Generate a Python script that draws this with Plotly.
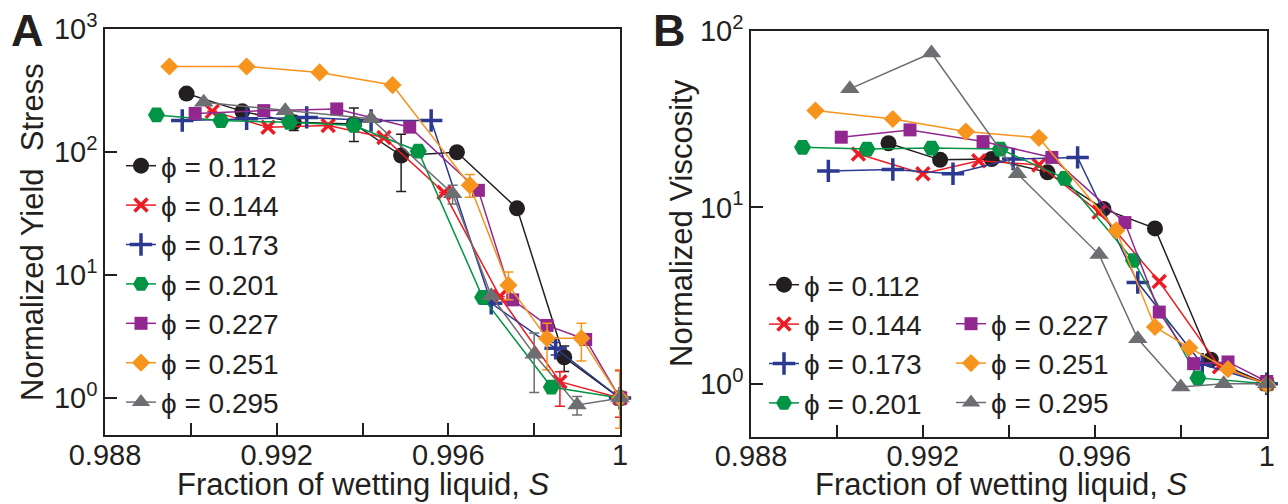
import plotly.graph_objects as go

# ---------------- data ----------------
LABELS = ["\u03d5 = 0.112", "\u03d5 = 0.144", "\u03d5 = 0.173", "\u03d5 = 0.201",
          "\u03d5 = 0.227", "\u03d5 = 0.251", "\u03d5 = 0.295"]

# Panel A: normalized yield stress
A_S_112 = [0.9899, 0.9912, 0.9924, 0.9938, 0.9949, 0.9962, 0.9976, 0.9987, 1.0]
A_Y_112 = [300, 215, 175, 170, 94, 100, 35, 2.15, 1.0]
A_EP_112 = [None, None, 19, 59, 46, None, None, 0.5, None]
A_EM_112 = [None, None, 25, 48, 46, None, None, 0.5, None]

A_S_144 = [0.9905, 0.9918, 0.9932, 0.9945, 0.9959, 0.9972, 0.9986, 1.0]
A_Y_144 = [215, 160, 165, 132, 47, 6.7, 1.36, 1.0]
A_EP_144 = [None, None, None, None, None, None, 0.28, 0.67]
A_EM_144 = [None, None, None, None, None, None, 0.5, 0.3]

A_S_173 = [0.9898, 0.9913, 0.9927, 0.9942, 0.9956, 0.9970, 0.9985, 1.0]
A_Y_173 = [181, 187, 192, 181, 181, 5.9, 2.54, 1.0]
A_EP_173 = [None, None, None, None, None, None, 0.3, 0.12]
A_EM_173 = [None, None, None, None, None, None, 0.3, 0.12]

A_S_201 = [0.9892, 0.9907, 0.9923, 0.9938, 0.9953, 0.9968, 0.9984, 1.0]
A_Y_201 = [201, 181, 175, 165, 102, 6.6, 1.23, 1.0]

A_S_227 = [0.9901, 0.9917, 0.9934, 0.9951, 0.9967, 0.9975, 0.9983, 0.9992, 1.0]
A_Y_227 = [207, 218, 225, 160, 49, 6.3, 3.9, 3.0, 1.0]

A_S_251 = [0.9895, 0.9913, 0.9930, 0.9947, 0.9965, 0.9974, 0.9983, 0.9991, 1.0]
A_Y_251 = [498, 498, 446, 352, 54, 8.3, 3.07, 3.07, 1.0]
A_EP_251 = [None, None, None, None, 12, 2.3, 1.0, 1.0, 0.7]
A_EM_251 = [None, None, None, None, 11, 2.0, 1.37, 1.07, 0.43]

A_S_295 = [0.9903, 0.9922, 0.9942, 0.9961, 0.9970, 0.9980, 0.9990, 1.0]
A_Y_295 = [255, 218, 187, 46, 6.8, 2.27, 0.88, 1.0]
A_EP_295 = [None, None, None, 8, None, 1.11, 0.15, None]
A_EM_295 = [None, None, None, 8, None, 1.16, 0.15, None]

# Panel B: normalized viscosity
B_S_112 = [0.9912, 0.9924, 0.9936, 0.9949, 0.9962, 0.9974, 0.9987, 1.0]
B_Y_112 = [23.1, 18.6, 18.8, 15.8, 9.8, 7.6, 1.37, 1.0]
B_S_144 = [0.9905, 0.9920, 0.9933, 0.9947, 0.9961, 0.9975, 0.9989, 1.0]
B_Y_144 = [20.1, 15.5, 18.4, 17.4, 9.4, 3.8, 1.25, 1.0]
B_S_173 = [0.9898, 0.9913, 0.9927, 0.9941, 0.9956, 0.9970, 0.9985, 1.0]
B_Y_173 = [16.1, 16.4, 15.5, 18.8, 19.2, 3.75, 1.29, 1.0]
B_S_201 = [0.9892, 0.9907, 0.9922, 0.9938, 0.9953, 0.9969, 0.9984, 1.0]
B_Y_201 = [21.9, 21.4, 21.7, 21.4, 14.6, 5.0, 1.08, 1.0]
B_S_227 = [0.9901, 0.9917, 0.9934, 0.9950, 0.9967, 0.9975, 0.9983, 0.9991, 1.0]
B_Y_227 = [25, 27.5, 23.6, 19.2, 8.2, 2.55, 1.30, 1.33, 1.03]
B_S_251 = [0.9895, 0.9913, 0.9930, 0.9947, 0.9965, 0.9974, 0.9982, 0.9991, 1.0]
B_Y_251 = [35.4, 31.7, 26.9, 24.8, 7.4, 2.1, 1.6, 1.21, 0.99]
B_S_295 = [0.9903, 0.9922, 0.9942, 0.9961, 0.9970, 0.9980, 0.9990, 1.0]
B_Y_295 = [47, 75, 15.5, 5.4, 1.8, 0.96, 1.0, 1.0]

X_TICKS = [0.988, 0.990, 0.992, 0.994, 0.996, 0.998, 1.0]
X_TICK_TEXT = ["0.988", "", "0.992", "", "0.996", "", "1"]
YA_TICKS = [1, 10, 100, 1000]
YA_TICK_TEXT = ["10<sup>0</sup>", "10<sup>1</sup>", "10<sup>2</sup>", "10<sup>3</sup>"]
YB_TICKS = [1, 10, 100]
YB_TICK_TEXT = ["10<sup>0</sup>", "10<sup>1</sup>", "10<sup>2</sup>"]

# ---------------- styles ----------------
COLORS = ["#231f20", "#ed1c24", "#2b3990", "#009444", "#92278f", "#f7941d", "#6d6e71"]
SYMBOLS = ["circle", "x-thin", "cross-thin", "hexagon2", "square", "diamond", "triangle-up"]
SIZES = [16, 13, 16, 17, 13, 14, 17]

W, H = 1288, 504
def fx(px):
    return px / W
def fy(py):
    return 1 - py / H

FONT = "Liberation Sans, Arial, Helvetica, sans-serif"
INK = "#231f20"

def marker(i):
    m = dict(symbol=SYMBOLS[i], size=SIZES[i], color=COLORS[i])
    if SYMBOLS[i] in ("x-thin", "cross-thin"):
        m["line"] = dict(color=COLORS[i], width=3.5)
    else:
        m["line"] = dict(width=0)
    return m

fig = go.Figure()

A_DATA = [(A_S_112, A_Y_112, A_EP_112, A_EM_112),
          (A_S_144, A_Y_144, A_EP_144, A_EM_144),
          (A_S_173, A_Y_173, A_EP_173, A_EM_173),
          (A_S_201, A_Y_201, None, None),
          (A_S_227, A_Y_227, None, None),
          (A_S_251, A_Y_251, A_EP_251, A_EM_251),
          (A_S_295, A_Y_295, A_EP_295, A_EM_295)]

for i, (s, y, ep, em) in enumerate(A_DATA):
    tr = dict(x=s, y=y, mode="lines+markers", name=LABELS[i],
              line=dict(color=COLORS[i], width=1.5), marker=marker(i),
              xaxis="x", yaxis="y", legend="legend", cliponaxis=False)
    if ep is not None:
        tr["error_y"] = dict(type="data", symmetric=False, array=ep, arrayminus=em,
                             color=COLORS[i], thickness=1.5, width=5)
    fig.add_trace(go.Scatter(**tr))

B_DATA = [(B_S_112, B_Y_112), (B_S_144, B_Y_144), (B_S_173, B_Y_173), (B_S_201, B_Y_201),
          (B_S_227, B_Y_227), (B_S_251, B_Y_251), (B_S_295, B_Y_295)]
for i, (s, y) in enumerate(B_DATA):
    fig.add_trace(go.Scatter(x=s, y=y, mode="lines+markers", name=LABELS[i],
                             line=dict(color=COLORS[i], width=1.5), marker=marker(i),
                             xaxis="x2", yaxis="y2", cliponaxis=False,
                             legend="legend2" if i < 4 else "legend3"))

axis_common = dict(ticks="inside", ticklen=12, tickwidth=1.5, tickcolor=INK,
                   showline=True, linecolor=INK, linewidth=1.5, mirror=True,
                   showgrid=False, zeroline=False, automargin=False,
                   tickfont=dict(size=29, color=INK, family=FONT))

xa = dict(axis_common, range=[0.988, 1.0], tickmode="array", tickvals=X_TICKS,
          ticktext=X_TICK_TEXT, ticklabelstandoff=-7)
fig.update_layout(
    xaxis=dict(xa, domain=[fx(105), fx(620)], anchor="y"),
    yaxis=dict(axis_common, type="log", range=[-0.3, 3], domain=[fy(435), fy(29.3)], anchor="x",
               tickmode="array", tickvals=YA_TICKS, ticktext=YA_TICK_TEXT),
    xaxis2=dict(xa, domain=[fx(751), fx(1266.7)], anchor="y2"),
    yaxis2=dict(axis_common, type="log", range=[-0.3, 2], domain=[fy(436.7), fy(31)], anchor="x2",
                tickmode="array", tickvals=YB_TICKS, ticktext=YB_TICK_TEXT),
)

leg_common = dict(xanchor="left", yanchor="top", bgcolor="rgba(0,0,0,0)",
                  font=dict(size=28, color=INK, family=FONT), itemwidth=30,
                  tracegroupgap=0, itemsizing="trace")
fig.update_layout(
    legend=dict(leg_common, x=fx(121), y=fy(141)),
    legend2=dict(leg_common, x=fx(764), y=fy(260)),
    legend3=dict(leg_common, x=fx(951), y=fy(299)),
)

ann = []
ann.append(dict(text="Normalized Yield\u00a0 Stress", x=fx(33), y=fy(232), textangle=-90,
                font=dict(size=31, color=INK, family=FONT)))
ann.append(dict(text="Normalized Viscosity", x=fx(681), y=fy(223), textangle=-90,
                font=dict(size=31, color=INK, family=FONT)))
ann.append(dict(text="Fraction of wetting liquid, <i>S</i>", x=fx(363), y=fy(503),
                yanchor="bottom", font=dict(size=31, color=INK, family=FONT)))
ann.append(dict(text="Fraction of wetting liquid, <i>S</i>", x=fx(1001), y=fy(503),
                yanchor="bottom", font=dict(size=31, color=INK, family=FONT)))
ann.append(dict(text="<b>A</b>", x=fx(27), y=fy(30), font=dict(size=45, color=INK, family=FONT)))
ann.append(dict(text="<b>B</b>", x=fx(669), y=fy(30), font=dict(size=45, color=INK, family=FONT)))
for a in ann:
    a.setdefault("yanchor", "middle")
    a.update(xref="paper", yref="paper", showarrow=False, xanchor="center", borderpad=0)

fig.update_layout(width=W, height=H, margin=dict(l=0, r=0, t=0, b=0),
                  paper_bgcolor="white", plot_bgcolor="white",
                  font=dict(family=FONT, color=INK), annotations=ann)

fig.write_html("out.html", config={"displayModeBar": False},
               post_script="document.body.style.margin='0px';document.body.style.overflow='hidden';")
